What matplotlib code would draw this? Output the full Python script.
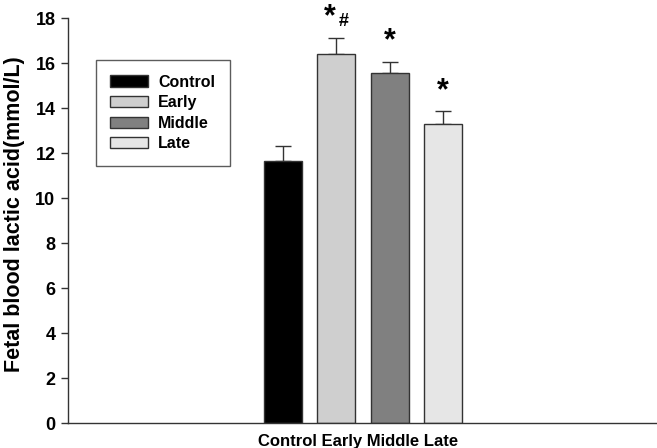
import numpy as np
import matplotlib
matplotlib.use('Agg')
import matplotlib.pyplot as plt
from matplotlib.ticker import MultipleLocator

plt.rcParams['font.family'] = ['Liberation Sans', 'DejaVu Sans']
plt.rcParams['font.weight'] = 'bold'

# data
groups = ['Control', 'Early', 'Middle', 'Late']
means = [11.66, 16.40, 15.57, 13.27]
sems = [0.65, 0.72, 0.49, 0.58]
marks = ['', '*', '*', '*']
colors = ['#000000', '#cfcfcf', '#808080', '#e6e6e6']

fig = plt.figure(figsize=(6.57, 4.48), dpi=100)
ax = fig.add_axes([0.1035, 0.0558, 0.8965, 0.9040])

x = np.arange(len(groups))
for i in range(len(groups)):
    ax.bar(x[i], means[i], width=0.71, color=colors[i], edgecolor='#333333',
           linewidth=1.0, label=groups[i], zorder=2)
    ax.errorbar(x[i], means[i], yerr=[[0], [sems[i]]], color='#333333',
                capsize=6, elinewidth=1.0, capthick=1.0, zorder=1)
    if marks[i]:
        ax.text(x[i] - (0.12 if i == 1 else 0), means[i] + sems[i] + 0.25, marks[i],
                ha='center', va='bottom', fontsize=22, fontweight='bold')
# hash marker on Early
ax.text(x[1] + 0.13, means[1] + sems[1] + 0.35, '#', ha='center', va='bottom',
        fontsize=13, fontweight='bold')

ax.set_xlim(-4.02, 7.0)
ax.set_ylim(0, 18)
ax.yaxis.set_major_locator(MultipleLocator(2))
ax.set_xticks([])
ax.spines['top'].set_visible(False)
ax.spines['right'].set_visible(False)
for s in ['left', 'bottom']:
    ax.spines[s].set_color('#333333')
    ax.spines[s].set_linewidth(1.0)
ax.tick_params(axis='y', direction='out', length=5, width=1.0, color='#333333',
               labelsize=13, pad=4)
for lab in ax.get_yticklabels():
    lab.set_fontweight('bold')

ax.set_ylabel('Fetal blood lactic acid(mmol/L)', fontsize=15.5, fontweight='bold')
ax.yaxis.set_label_coords(-0.073, 0.515)
ax.text(1.4, -0.5, ' '.join(groups), ha='center', va='top', fontsize=12,
        fontweight='bold', transform=ax.transData)

leg = ax.legend(loc='upper left', bbox_to_anchor=(0.0475, 0.896), borderaxespad=0,
                frameon=True, fancybox=False, edgecolor='#333333', fontsize=11.5,
                handlelength=2.35, handleheight=0.7, borderpad=0.9, labelspacing=0.35,
                handletextpad=0.65)
leg.get_frame().set_linewidth(1.0)
for t in leg.get_texts():
    t.set_fontweight('bold')

fig.savefig('out.png', dpi=100)
